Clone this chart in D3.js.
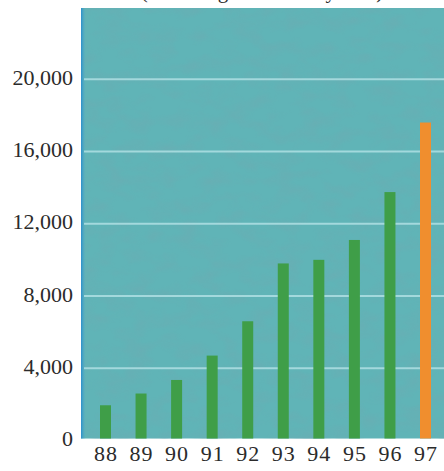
<!DOCTYPE html>
<html>
<head>
<meta charset="utf-8">
<script src="https://cdn.jsdelivr.net/npm/d3@7"></script>
<style>
  html, body { margin: 0; padding: 0; background: #ffffff; }
  svg { display: block; }
  text { font-family: "Liberation Serif", "DejaVu Serif", serif; fill: #2b2b2b; }
</style>
</head>
<body>
<div id="chart"></div>
<script>
// Annual totals, 1988–1997 (last year highlighted)
const years = ["88", "89", "90", "91", "92", "93", "94", "95", "96", "97"];
const totals = [1950, 2600, 3350, 4700, 6600, 9800, 10000, 11100, 13750, 17600];
const highlightYear = "97";
const yTicks = [0, 4000, 8000, 12000, 16000, 20000];
const subtitle = "(Including all the study area)";

const W = 444, H = 471;
const panel = { left: 81, top: 8, right: 444, bottom: 438.5 };

const svg = d3.select("#chart").append("svg")
  .attr("width", W).attr("height", H);

const defs = svg.append("defs");

// mottled paper texture for the plot panel
const tex = defs.append("filter").attr("id", "mottle")
  .attr("x", 0).attr("y", 0).attr("width", 1).attr("height", 1);
tex.append("feTurbulence").attr("type", "fractalNoise")
  .attr("baseFrequency", "0.04 0.07").attr("numOctaves", 3).attr("seed", 7).attr("result", "n");
tex.append("feColorMatrix").attr("in", "n").attr("type", "matrix")
  .attr("values", "0 0 0 0 0.16  0 0 0 0 0.40  0 0 0 0 0.44  0 0 0 -1.6 0.95");

const stripe = defs.append("linearGradient").attr("id", "edge")
  .attr("x1", 0).attr("x2", 1).attr("y1", 0).attr("y2", 0);
stripe.append("stop").attr("offset", 0).attr("stop-color", "#2a8fce");
stripe.append("stop").attr("offset", 1).attr("stop-color", "#5cb0c0").attr("stop-opacity", 0);

defs.append("clipPath").attr("id", "panelClip")
  .append("rect")
  .attr("x", panel.left).attr("y", panel.top)
  .attr("width", panel.right - panel.left).attr("height", panel.bottom - panel.top);

// subtitle line above the panel; only its lower edge falls inside the page
svg.append("text")
  .attr("x", 262).attr("y", -2)
  .attr("text-anchor", "middle")
  .style("font-size", "21px")
  .text(subtitle);

// panel background
svg.append("rect")
  .attr("x", panel.left).attr("y", panel.top)
  .attr("width", panel.right - panel.left).attr("height", panel.bottom - panel.top)
  .attr("fill", "#60b4b7");
svg.append("rect")
  .attr("x", panel.left).attr("y", panel.top)
  .attr("width", panel.right - panel.left).attr("height", panel.bottom - panel.top)
  .attr("filter", "url(#mottle)")
  .attr("opacity", 0.6);
svg.append("rect")
  .attr("x", panel.left).attr("y", panel.top)
  .attr("width", 5).attr("height", panel.bottom - panel.top)
  .attr("fill", "url(#edge)");

const y = d3.scaleLinear().domain([0, 24000]).range([440.5, 6.9]);
const x = d3.scalePoint().domain(years).range([105.5, 425.5]);
const barW = 11;

// horizontal gridlines
const gridG = svg.append("g").attr("clip-path", "url(#panelClip)");
gridG.selectAll("line")
  .data(yTicks.filter(d => d > 0))
  .join("line")
  .attr("x1", panel.left + 3).attr("x2", panel.right)
  .attr("y1", d => y(d)).attr("y2", d => y(d))
  .attr("stroke", "#b4e2e6").attr("stroke-opacity", 0.8)
  .attr("stroke-width", 2);

// bars
const barG = svg.append("g").attr("clip-path", "url(#panelClip)");
barG.selectAll("rect")
  .data(years.map((yr, i) => ({ yr, v: totals[i] })))
  .join("rect")
  .attr("x", d => x(d.yr) - barW / 2)
  .attr("width", barW)
  .attr("y", d => y(d.v))
  .attr("height", d => y(0) - y(d.v))
  .attr("fill", d => d.yr === highlightYear ? "#f08e2e" : "#3f9e48");

// y axis labels
const yAxis = d3.axisLeft(y)
  .tickValues(yTicks)
  .tickFormat(d3.format(","))
  .tickSize(0)
  .tickPadding(0);
const yg = svg.append("g").attr("transform", "translate(73,-2)").call(yAxis);
yg.select(".domain").remove();
yg.selectAll("text").style("font-size", "22px").attr("fill", "#2b2b2b");

// x axis labels
const xAxis = d3.axisBottom(x).tickSize(0).tickPadding(0);
const xg = svg.append("g").attr("transform", "translate(0,445)").call(xAxis);
xg.select(".domain").remove();
xg.selectAll("text").style("font-size", "22px").attr("fill", "#2b2b2b")
  .style("letter-spacing", "1px");
</script>
</body>
</html>
